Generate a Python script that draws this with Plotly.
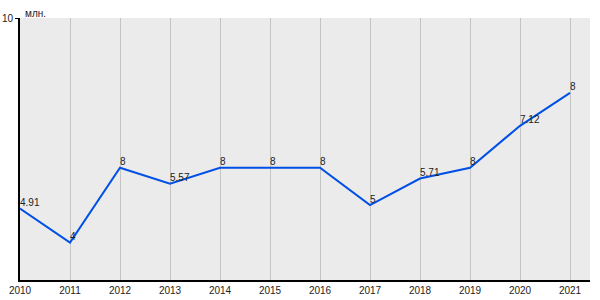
import plotly.graph_objects as go

years = [2010, 2011, 2012, 2013, 2014, 2015, 2016, 2017, 2018, 2019, 2020, 2021]
values = [4.91, 4, 6, 5.57, 6, 6, 6, 5, 5.71, 6, 7.12, 8]
labels = ["4.91", "4", "8", "5.57", "8", "8", "8", "5", "5.71", "8", "7.12", "8"]
y_ticks = [10]
unit = "млн."

fig = go.Figure()
fig.add_trace(go.Scatter(
    x=years, y=values, mode="lines+text",
    text=labels, textposition="top right",
    textfont=dict(family="Liberation Sans, Arial", size=10, color="#222222"),
    line=dict(color="#0050e6", width=2),
    cliponaxis=False, hoverinfo="skip",
))
fig.update_layout(
    width=600, height=300,
    margin=dict(l=20, r=10, t=18, b=20),
    paper_bgcolor="white", plot_bgcolor="#ebebeb",
    showlegend=False,
    font=dict(family="Liberation Sans, Arial", size=10, color="#222222"),
    xaxis=dict(range=[2010, 2021.4], tickvals=years, ticktext=[str(y) for y in years],
               showgrid=True, gridcolor="#c4c4c4", gridwidth=1,
               showline=True, linecolor="black", linewidth=2,
               ticks="", zeroline=False, fixedrange=True, automargin=False),
    yaxis=dict(range=[3, 10], tickvals=y_ticks, showgrid=False,
               showline=True, linecolor="black", linewidth=2,
               ticks="outside", ticklen=3, tickcolor="black",
               zeroline=False, fixedrange=True, automargin=False),
    annotations=[dict(text=unit, xref="paper", yref="paper", x=0, y=1,
                      xanchor="left", yanchor="bottom", showarrow=False,
                      xshift=3, yshift=-3,
                      font=dict(family="Liberation Sans, Arial", size=10, color="#222222"))],
)
fig.write_html("out.html", config={"displayModeBar": False})
